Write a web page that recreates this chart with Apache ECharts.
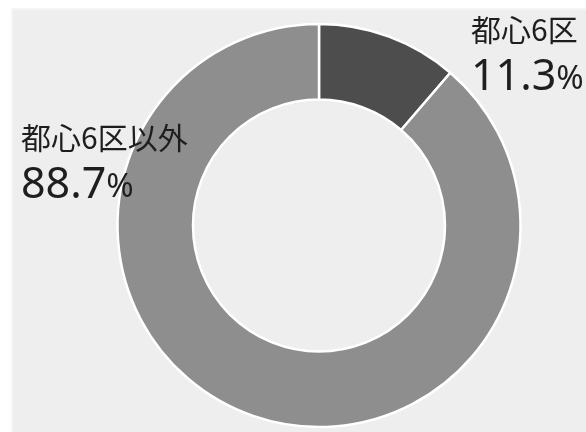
<!DOCTYPE html>
<html>
<head>
<meta charset="utf-8">
<script src="https://cdn.jsdelivr.net/npm/echarts@6/dist/echarts.min.js"></script>
<style>
html,body{margin:0;padding:0;background:#fff;}
#chart{width:586px;height:432px;}
</style>
</head>
<body>
<div id="chart"></div>
<script>
// 区分と構成比（%）
const categories = ['都心6区', '都心6区以外'];
const shares = [11.3, 88.7];
const sliceColors = ['#4d4d4d', '#8e8e8e'];
// ラベルの左上位置
const labelAnchors = [[471, 11], [21, 119]];

const chart = echarts.init(document.getElementById('chart'), null, { renderer: 'canvas' });

const numFont = '"Noto Sans", "Noto Sans CJK JP", sans-serif';

chart.setOption({
  backgroundColor: '#ffffff',
  animation: false,
  graphic: [{
    type: 'rect',
    z: -10,
    shape: { x: 12, y: 9, width: 580, height: 430 },
    style: { fill: '#eeeeee', stroke: '#f6f6f6', lineWidth: 2 }
  }],
  series: [{
    type: 'pie',
    center: [319, 225.5],
    radius: [126, 201.5],
    startAngle: 90,
    clockwise: true,
    itemStyle: { borderColor: '#ffffff', borderWidth: 2.5 },
    emphasis: { disabled: true },
    labelLine: { show: false },
    label: {
      show: true,
      position: 'outside',
      formatter: p => '{n|' + p.name + '}\n{v|' + p.value + '}{p|%}',
      color: '#1e1e1e',
      rich: {
        n: { fontSize: 30, lineHeight: 38, color: '#1e1e1e', fontFamily: '"Noto Sans CJK JP", sans-serif' },
        v: { fontSize: 43, lineHeight: 50, color: '#1e1e1e', fontFamily: numFont, verticalAlign: 'bottom' },
        p: { fontSize: 33, lineHeight: 50, color: '#1e1e1e', fontFamily: numFont, verticalAlign: 'bottom', padding: [0, 0, 3, 0] }
      }
    },
    labelLayout: params => ({
      x: labelAnchors[params.dataIndex][0],
      y: labelAnchors[params.dataIndex][1],
      align: 'left',
      verticalAlign: 'top',
      hideOverlap: false
    }),
    data: categories.map((c, i) => ({
      name: c,
      value: shares[i],
      itemStyle: { color: sliceColors[i] }
    }))
  }]
});
</script>
</body>
</html>
